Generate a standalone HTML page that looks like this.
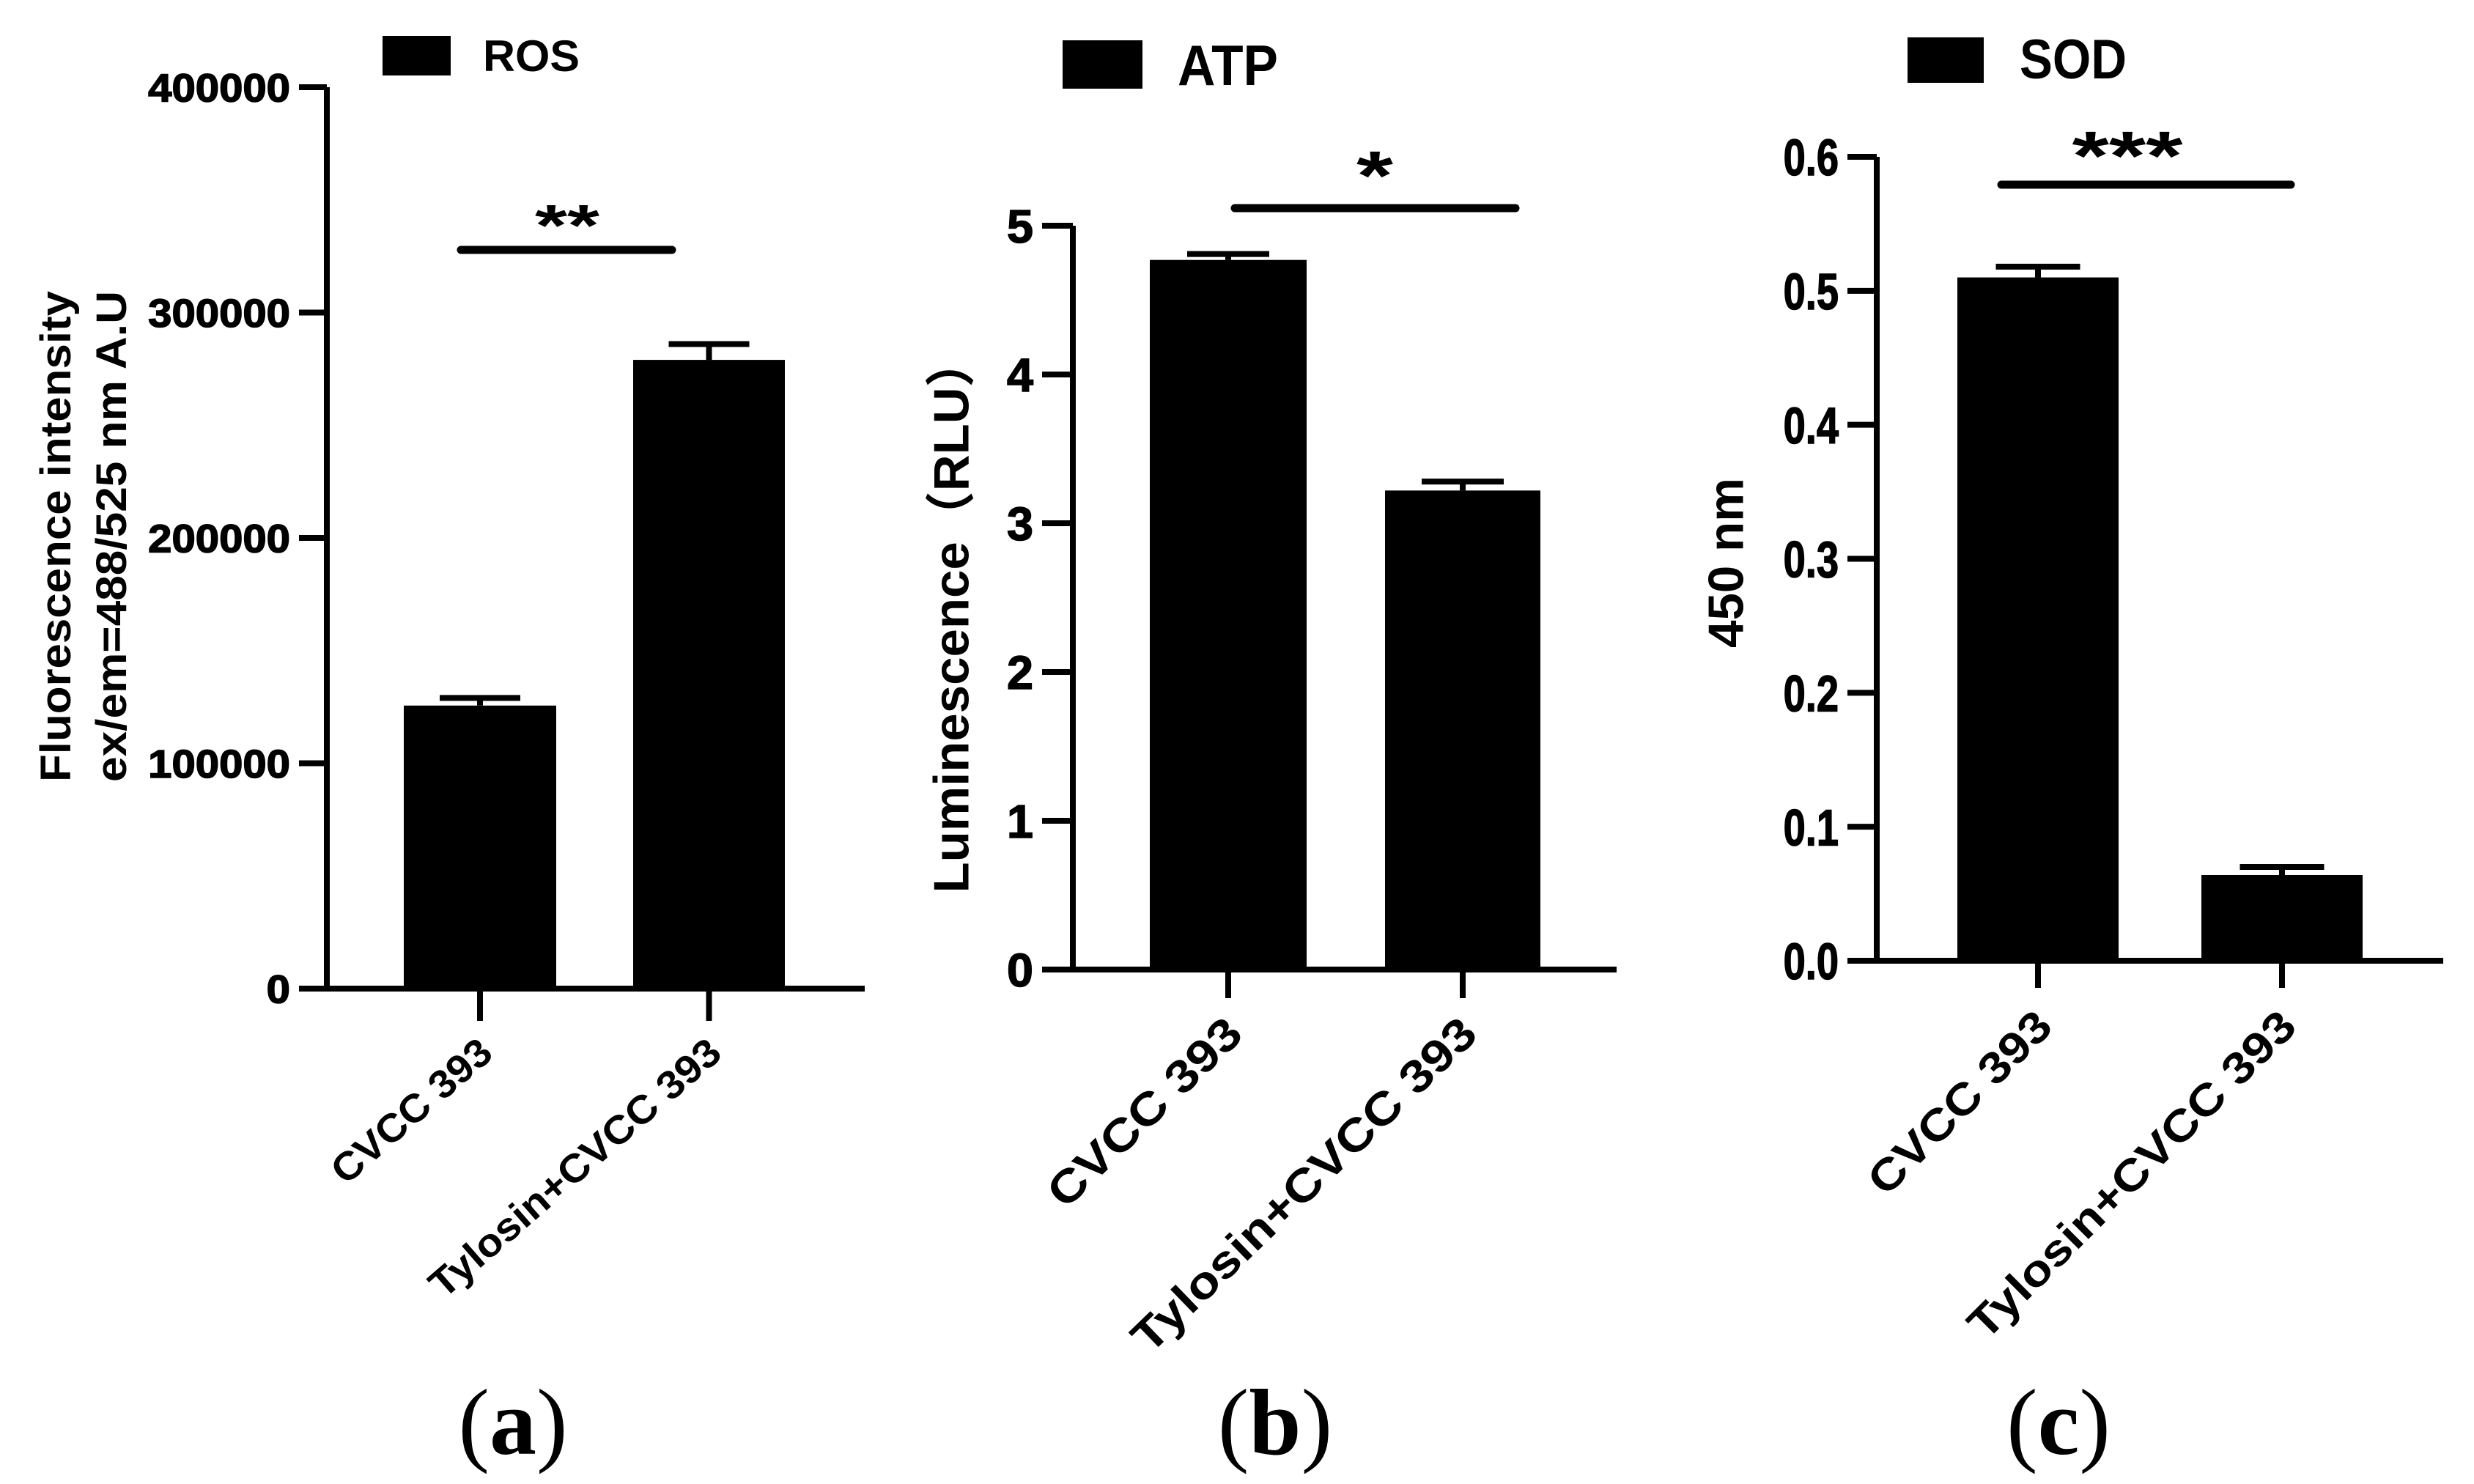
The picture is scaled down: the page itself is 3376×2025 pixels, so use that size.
<!DOCTYPE html>
<html><head><meta charset="utf-8"><style>
html,body{margin:0;padding:0;background:#fff;}
svg{display:block;}
text{font-family:"Liberation Sans",sans-serif;fill:#000;}
</style></head><body>
<svg id="fig" width="3376" height="2025" viewBox="0 0 3376 2025" xmlns="http://www.w3.org/2000/svg"></svg>
<script>
const categories = ["CVCC 393", "Tylosin+CVCC 393"];
const rosValues = [125600, 279000];
const rosErrors = [3400, 7000];
const rosTicks = [0, 100000, 200000, 300000, 400000];
const atpValues = [4.77, 3.22];
const atpErrors = [0.04, 0.06];
const atpTicks = [0, 1, 2, 3, 4, 5];
const sodValues = [0.510, 0.064];
const sodErrors = [0.008, 0.006];
const sodTicks = ["0.0", "0.1", "0.2", "0.3", "0.4", "0.5", "0.6"];

const NS = "http://www.w3.org/2000/svg";
const svg = document.getElementById('fig');
function mk(tag, attrs, parent, txt){
  const e = document.createElementNS(NS, tag);
  for (const k in attrs) e.setAttribute(k, attrs[k]);
  if (txt !== undefined) e.textContent = txt;
  (parent || svg).appendChild(e);
  return e;
}

const panels = [
 {id:'ros', values:rosValues, errors:rosErrors, ticks:rosTicks, axX:446, y0:1349, yTop:119, max:400000,
  xEnd:1180, bars:[[551,759],[864,1071]], capW:110, lw:8, tickFont:54, digitW:32.3, tickRight:396,
  legRect:[522,49,93,54], legText:'ROS', legX:659, legY:97, legFont:60, legLen:132,
  sig:[629,917,341], star:'**', starX:774, starY:290, starFont:80, starLen:88,
  ylab:[['Fluorescence intensity',75],['ex/em=488/525 nm A.U',151]], ylabY:732, ylabFont:58, ylabLen:670,
  tickDown:1393, xlabFont:54, xlabLen:[270,507], xlabAng:-41, xlabEndDx:8, xlabEndY:1427,
  panelLab:'a', panelX:700},
 {id:'atp', values:atpValues, errors:atpErrors, ticks:atpTicks, axX:1464, y0:1323, yTop:308, max:5,
  xEnd:2206, bars:[[1569,1783],[1890,2102]], capW:112, lw:8, tickFont:64, digitW:36, tickRight:1410,
  legRect:[1450,55,109,66], legText:'ATP', legX:1607, legY:116, legFont:78, legLen:137,
  sig:[1685,2068,284], star:'*', starX:1876, starY:219, starFont:95, starLen:50,
  ylab:[['Luminescence（RLU）',1297]], ylabY:839, ylabFont:68, ylabLen:759,
  tickDown:1362, xlabFont:62, xlabLen:[341,626], xlabAng:-44, xlabEndDx:8, xlabEndY:1399,
  panelLab:'b', panelX:1740},
 {id:'sod', values:sodValues, errors:sodErrors, ticks:sodTicks, axX:2561, y0:1311, yTop:214, max:0.6,
  xEnd:3334, bars:[[2671,2891],[3004,3224]], capW:115, lw:8, tickFont:70, digitW:29, tickRight:2509,
  legRect:[2603,51,104,62], legText:'SOD', legX:2756, legY:107, legFont:76, legLen:146,
  sig:[2731,3126,252], star:'***', starX:2903, starY:192, starFont:95, starLen:151,
  ylab:[['450 nm',2354]], ylabY:768, ylabFont:68, ylabLen:232,
  tickDown:1348, xlabFont:60, xlabLen:[326,604], xlabAng:-45, xlabEndDx:8, xlabEndY:1389,
  panelLab:'c', panelX:2809}
];

panels.forEach(p => {
  const g = mk('g', {});
  
  
  const yS = v => p.y0 - (parseFloat(v) / p.max) * (p.y0 - p.yTop);
  p.values.forEach((v, i) => {
    const [x1, x2] = p.bars[i];
    const r = mk('rect', {x:x1, y:yS(v), width:x2-x1, height:p.y0-yS(v), fill:'#000'}, g);
    
    
    const cx = (x1+x2)/2, ye = yS(v + p.errors[i]);
    const eb = mk('path', {d:`M${cx} ${yS(v)}V${ye}M${cx-p.capW/2} ${ye}H${cx+p.capW/2}`, stroke:'#000', 'stroke-width':p.lw, fill:'none'}, g);
    
    
    const td = mk('line', {x1:cx, x2:cx, y1:p.y0, y2:p.tickDown, stroke:'#000', 'stroke-width':p.lw}, g);
    
    
    const ex = cx + p.xlabEndDx, ey = p.xlabEndY;
    const t = mk('text', {x:0, y:0, 'font-size':p.xlabFont, 'font-weight':'bold', 'text-anchor':'end',
      transform:`translate(${ex},${ey}) rotate(${p.xlabAng})`, textLength:p.xlabLen[i], lengthAdjust:'spacingAndGlyphs', dy:'0.35em'}, g, categories[i]);
    
    
  });
  const ax = mk('path', {d:`M${p.axX} ${p.yTop}V${p.y0}M${p.tickRight+12} ${p.y0}H${p.xEnd}`, stroke:'#000', 'stroke-width':p.lw, fill:'none'}, g);
  
  
  p.ticks.forEach(tv => {
    const y = yS(tv);
    const tl = mk('line', {x1:p.tickRight+12, x2:p.axX, y1:y, y2:y, stroke:'#000', 'stroke-width':p.lw}, g);
    
    
    const s = String(tv);
    const w = s.replace('.', '').length * p.digitW + (s.includes('.') ? p.digitW * 0.6 : 0);
    const tt = mk('text', {x:p.tickRight, y:y, 'font-size':p.tickFont, 'font-weight':'bold', 'text-anchor':'end', dy:'0.36em', textLength:w, lengthAdjust:'spacingAndGlyphs', stroke:'#000', 'stroke-width':1.5}, g, s);
    
    
  });
  const lr = mk('rect', {x:p.legRect[0], y:p.legRect[1], width:p.legRect[2], height:p.legRect[3], fill:'#000'}, g);
  
  
  const lt = mk('text', {x:p.legX, y:p.legY, 'font-size':p.legFont, 'font-weight':'bold', textLength:p.legLen, lengthAdjust:'spacingAndGlyphs'}, g, p.legText);
  
  
  const sl = mk('line', {x1:p.sig[0], x2:p.sig[1], y1:p.sig[2], y2:p.sig[2], stroke:'#000', 'stroke-width':11, 'stroke-linecap':'round'}, g);
  
  
  const st = mk('text', {x:p.starX, y:p.starY + 0.56*p.starFont, 'font-size':p.starFont, 'font-weight':'bold', 'text-anchor':'middle', textLength:p.starLen, lengthAdjust:'spacingAndGlyphs'}, g, p.star);
  
  
  p.ylab.forEach((l) => {
    const yl = mk('text', {x:0, y:0, 'font-size':p.ylabFont, 'font-weight':'bold', 'text-anchor':'middle', dy:'0.36em',
      transform:`translate(${l[1]},${p.ylabY}) rotate(-90)`, textLength:p.ylabLen, lengthAdjust:'spacingAndGlyphs'}, g, l[0]);
    
    
    yl.setAttribute('style', 'font-family:"Liberation Sans","Noto Sans CJK SC",sans-serif');
  });
  const pl = mk('text', {x:p.panelX, y:1984, 'font-size':128, 'text-anchor':'middle', style:'font-family:"Liberation Serif",serif'}, g);
  
  
  mk('tspan', {}, pl, '(');
  mk('tspan', {'font-weight':'bold'}, pl, p.panelLab);
  mk('tspan', {}, pl, ')');
});
</script>
</body></html>
